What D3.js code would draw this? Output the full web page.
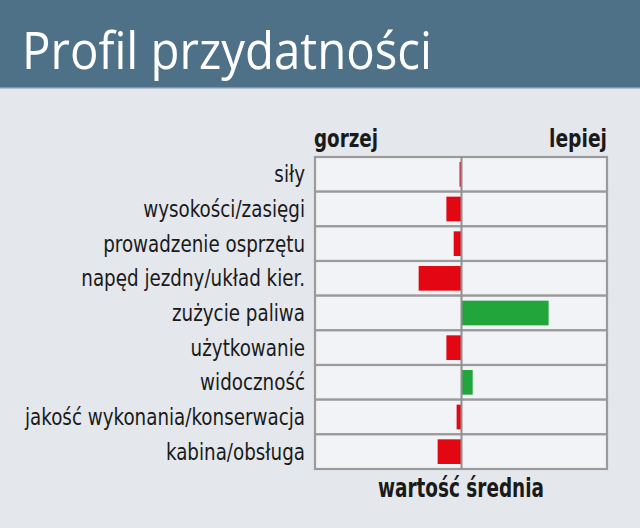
<!DOCTYPE html>
<html><head><meta charset="utf-8">
<script src="https://cdn.jsdelivr.net/npm/d3@7"></script>
<style>html,body{margin:0;padding:0;background:#e4e7ec;}svg{display:block;}</style>
</head><body>
<svg id="c" width="640" height="528"></svg>
<script>
const title = "Profil przydatności";
const categories = ["siły","wysokości/zasięgi","prowadzenie osprzętu","napęd jezdny/układ kier.","zużycie paliwa","użytkowanie","widoczność","jakość wykonania/konserwacja","kabina/obsługa"];
const values = [-0.1,-1.0,-0.5,-2.9,6.0,-1.0,0.8,-0.3,-1.6];
const domainMin = -10, domainMax = 10;
const leftLabel = "gorzej", rightLabel = "lepiej", bottomLabel = "wartość średnia";

const svg = d3.select("#c");
const W = 640, H = 528;
svg.append("rect").attr("width",W).attr("height",H).attr("fill","#e4e7ec");
svg.append("rect").attr("width",W).attr("height",88).attr("fill","#4e7188");
svg.append("rect").attr("y",87).attr("width",W).attr("height",1.5).attr("fill","#7f98a8");

const t = svg.append("text").attr("x",22).attr("y",69).attr("fill","#fff")
  .attr("font-family","'Open Sans','Noto Sans',sans-serif").attr("font-size",51).text(title);
t.attr("textLength",410).attr("lengthAdjust","spacingAndGlyphs");

const x = d3.scaleLinear().domain([domainMin,domainMax]).range([315,607]);
const y = d3.scaleBand().domain(categories).range([157,469]).paddingInner(0).paddingOuter(0);
const g = svg.append("g");

g.selectAll("rect.cell").data(categories).join("rect").attr("class","cell")
  .attr("x",x(domainMin)).attr("y",d=>y(d)).attr("width",x(domainMax)-x(domainMin)).attr("height",y.bandwidth())
  .attr("fill","#f1f3f7").attr("stroke","#9b9b9b").attr("stroke-width",2.2);

const pad = 5;
g.selectAll("rect.bar").data(values).join("rect").attr("class","bar")
  .attr("x",d=>x(Math.min(0,d))).attr("width",d=>Math.abs(x(d)-x(0)))
  .attr("y",(d,i)=>y(categories[i])+pad).attr("height",y.bandwidth()-2*pad)
  .attr("fill",d=>d<0?"#e30613":"#22a53a");

g.append("line").attr("x1",x(0)+0.5).attr("x2",x(0)+0.5).attr("y1",y.range()[0]).attr("y2",y.range()[1])
  .attr("stroke","#8f8f8f").attr("stroke-width",2);

const lf = "'Liberation Sans Narrow','DejaVu Sans Condensed',sans-serif";
const labs = g.selectAll("text.lab").data(categories).join("text").attr("class","lab")
  .attr("x",305).attr("y",d=>y(d)+y.bandwidth()/2+8).attr("text-anchor","end")
  .attr("font-family",lf).attr("font-size",23.5).attr("fill","#1a1a1a").text(d=>d);
let maxW = 0; labs.each(function(){maxW=Math.max(maxW,this.getComputedTextLength());});
const k = 280/maxW;
labs.each(function(){const w=this.getComputedTextLength(); d3.select(this).attr("textLength",w*k).attr("lengthAdjust","spacingAndGlyphs");});

const hdr = (txt,xx,yy,anchor,size,len)=>{
  const e = svg.append("text").attr("x",xx).attr("y",yy).attr("text-anchor",anchor)
   .attr("font-family",lf).attr("font-weight","bold").attr("font-size",size).attr("fill","#1a1a1a").text(txt);
  if(len) e.attr("textLength",len).attr("lengthAdjust","spacingAndGlyphs");
  return e;
};
hdr(leftLabel,314,147,"start",25,64);
hdr(rightLabel,607,147,"end",25,58);
hdr(bottomLabel,461,497,"middle",26,166);
</script>
</body></html>
